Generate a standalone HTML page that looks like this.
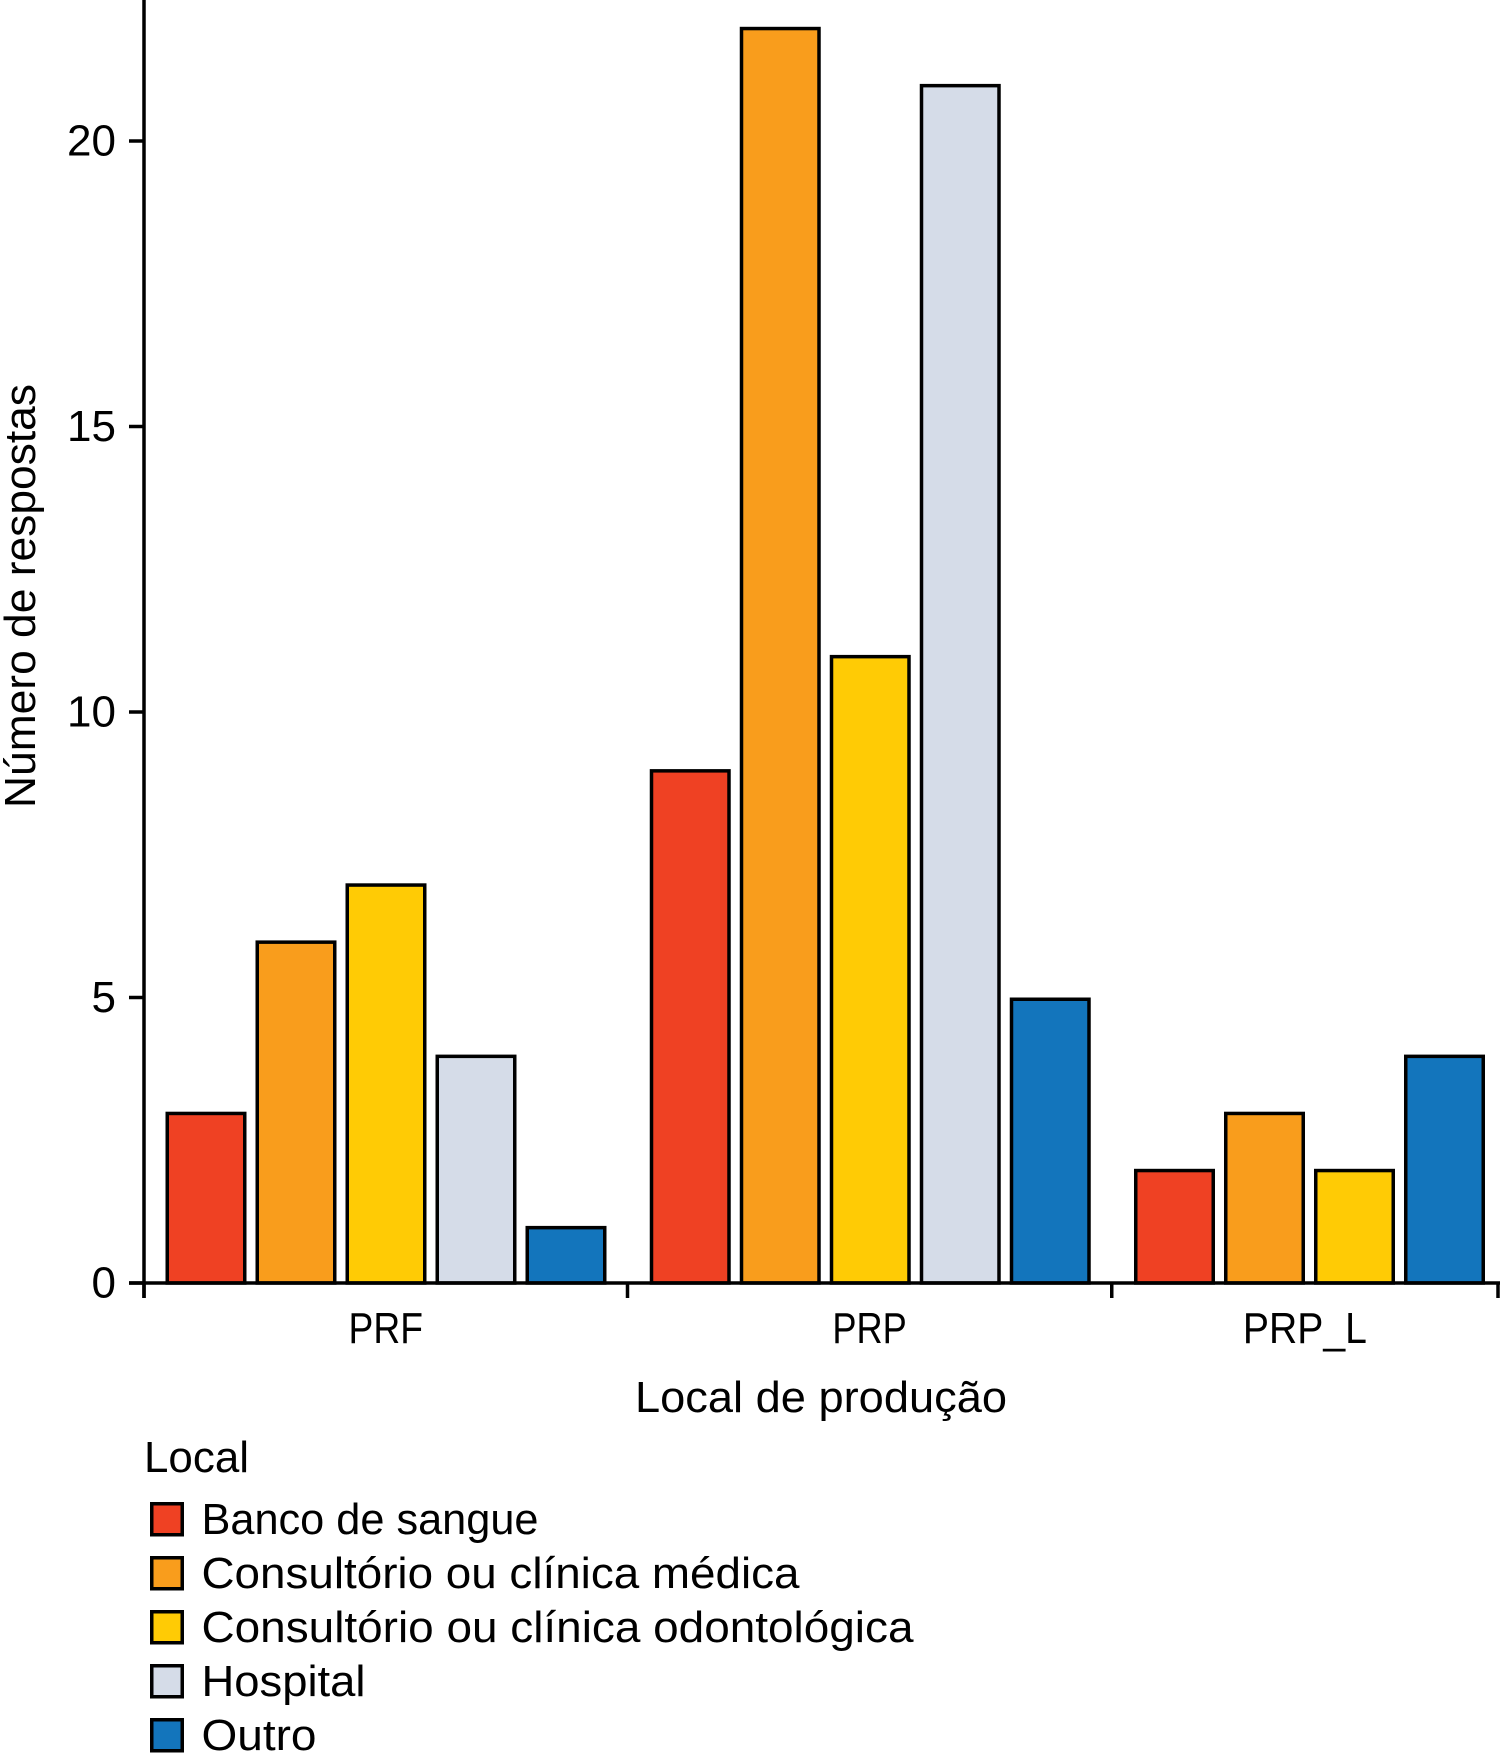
<!DOCTYPE html>
<html lang="pt">
<head>
<meta charset="utf-8">
<title>Número de respostas por local de produção</title>
<style>
  html, body { margin: 0; padding: 0; background: #fff; }
  svg { display: block; }
  text { font-family: "Liberation Sans", sans-serif; font-size: 44px; fill: #000; }
</style>
</head>
<body>
<svg id="chart" xmlns="http://www.w3.org/2000/svg" width="1500" height="1753" viewBox="0 0 1500 1753">
  <rect x="0" y="0" width="1500" height="1753" fill="#fff"/>
  <g id="bars"></g>
  <g id="axes"></g>
  <text transform="translate(35 808) rotate(-90)" textLength="424" lengthAdjust="spacingAndGlyphs">Número de respostas</text>
  <text x="635" y="1412" textLength="372" lengthAdjust="spacingAndGlyphs">Local de produção</text>
  <text x="144" y="1472" textLength="105" lengthAdjust="spacingAndGlyphs">Local</text>
  <g id="legend"></g>
</svg>
<script>
const categories = ["PRF", "PRP", "PRP_L"];
const seriesNames = ["Banco de sangue", "Consultório ou clínica médica", "Consultório ou clínica odontológica", "Hospital", "Outro"];
const seriesColors = ["#EF4123", "#F99D1C", "#FFCB05", "#D5DCE8", "#1375BC"];
const bancoValues = [3, 9, 2];
const medicaValues = [6, 22, 3];
const odontoValues = [7, 11, 2];
const hospitalValues = [4, 21, null];
const outroValues = [1, 5, 4];
const yTickLabels = [0, 5, 10, 15, 20];

const allSeries = [bancoValues, medicaValues, odontoValues, hospitalValues, outroValues];
const NS = "http://www.w3.org/2000/svg";
const axisLeft = 144, axisBottom = 1283, unit = 57.1, plotRight = 1498;
const step = 90, barW = 81, pad = 21.5, groupGap = 34.25, stroke = 3.5;

function y(v) { return axisBottom - v * unit; }

function make(tag, attrs, parent) {
  const el = document.createElementNS(NS, tag);
  for (const k in attrs) el.setAttribute(k, attrs[k]);
  parent.appendChild(el);
  return el;
}

const barsG = document.getElementById("bars");
const axesG = document.getElementById("axes");
const legendG = document.getElementById("legend");

// category bars: missing values take no slot
let groupStart = axisLeft + pad;
const boundaries = [axisLeft];
categories.forEach(function (cat, c) {
  let slot = 0;
  allSeries.forEach(function (vals, s) {
    const v = vals[c];
    if (v === null || v === undefined) return;
    const left = groupStart + slot * step;
    const rect = make("rect", {
      x: left + stroke / 2,
      y: y(v) + stroke / 2,
      width: barW - stroke,
      height: Math.max(0, axisBottom - y(v) - stroke / 2),
      fill: seriesColors[s],
      stroke: "#000",
      "stroke-width": stroke
    }, barsG);
    
    
    slot++;
  });
  const end = groupStart + slot * step - 9 + pad - 0.5;
  boundaries.push(c === categories.length - 1 ? plotRight : end);
  groupStart = groupStart + slot * step + groupGap;
});

// axis lines
const yLine = make("line", { x1: axisLeft, x2: axisLeft, y1: 0, y2: axisBottom + 15, stroke: "#000", "stroke-width": stroke }, axesG);


const xLine = make("line", { x1: axisLeft - 15, x2: 1500, y1: axisBottom, y2: axisBottom, stroke: "#000", "stroke-width": stroke }, axesG);



// y ticks
yTickLabels.forEach(function (t) {
  const tick = make("line", { x1: axisLeft - 15, x2: axisLeft, y1: y(t), y2: y(t), stroke: "#000", "stroke-width": stroke }, axesG);
  
  
  const label = make("text", { x: 116, y: y(t) + 14.5, "text-anchor": "end" }, axesG);
  
  
  label.textContent = t;
});

// x ticks at group boundaries, labels centred between them
const labelWidthPerChar = 24.8;
boundaries.forEach(function (b, i) {
  const tick = make("line", { x1: b, x2: b, y1: axisBottom, y2: axisBottom + 15, stroke: "#000", "stroke-width": stroke }, axesG);
  
  
});
categories.forEach(function (cat, c) {
  const label = make("text", {
    x: (boundaries[c] + boundaries[c + 1]) / 2,
    y: 1343,
    "text-anchor": "middle",
    textLength: cat.length * labelWidthPerChar,
    lengthAdjust: "spacingAndGlyphs"
  }, axesG);
  
  
  label.textContent = cat;
});

// legend
const legendWidths = [337, 598, 712, 164, 115];
seriesNames.forEach(function (name, i) {
  const top = 1502 + i * 54;
  const swatch = make("rect", {
    x: 151.75, y: top + 1.75, width: 30.5, height: 31,
    fill: seriesColors[i], stroke: "#000", "stroke-width": stroke
  }, legendG);
  
  
  const label = make("text", {
    x: 201.5, y: top + 32,
    textLength: legendWidths[i],
    lengthAdjust: "spacingAndGlyphs"
  }, legendG);
  
  
  label.textContent = name;
});
</script>
</body>
</html>
